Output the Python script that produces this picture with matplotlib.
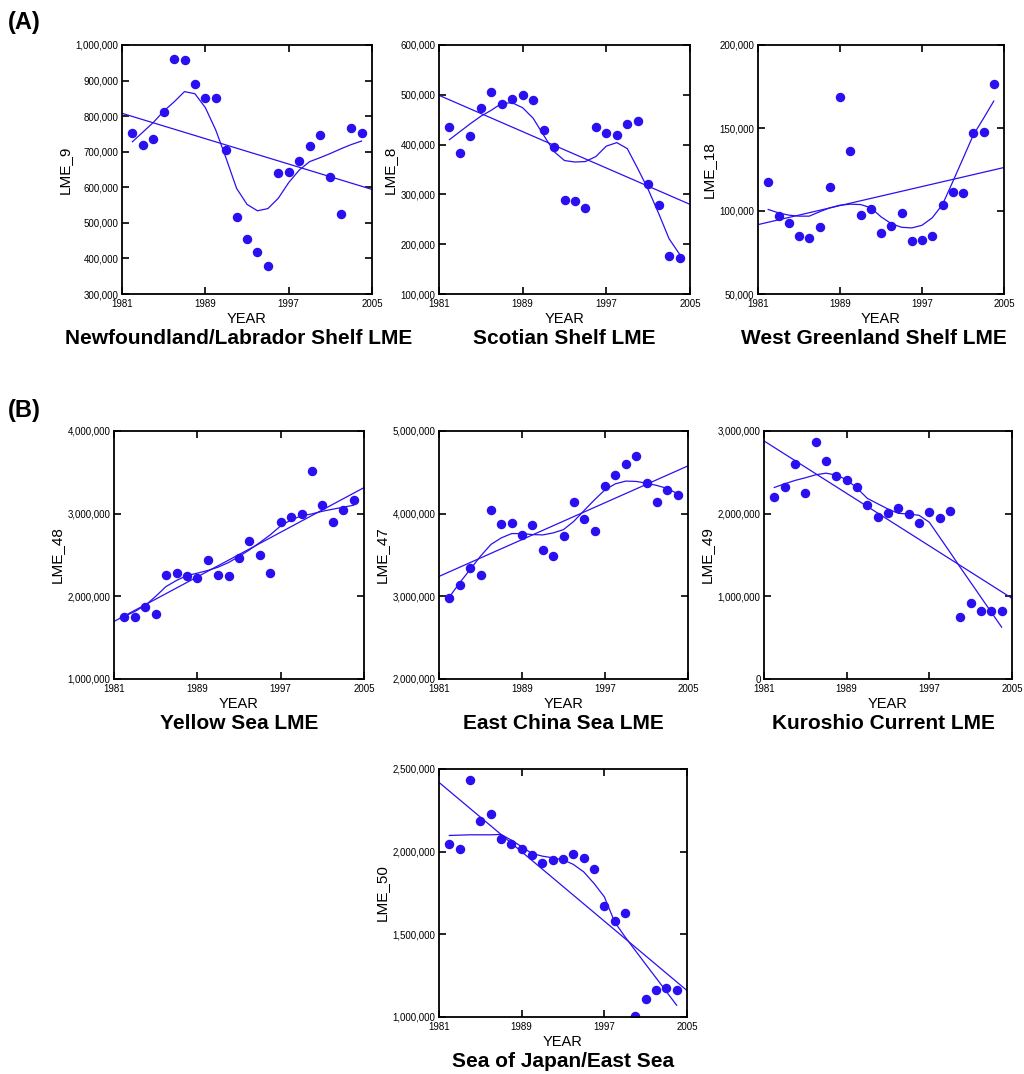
import matplotlib
matplotlib.use("Agg")
import matplotlib.pyplot as plt
from matplotlib.ticker import FuncFormatter
import numpy as np

plt.rcParams['font.family'] = ['Liberation Sans', 'DejaVu Sans']

years = np.arange(1982, 2005)

# catch values, smoothed curve and trend-line ends (1981, 2005)
lme_9 = [752e3, 718e3, 736e3, 813e3, 960e3, 958e3, 891e3, 852e3, 850e3, 706e3, 517e3, 455e3,
         417e3, 379e3, 640e3, 643e3, 673e3, 716e3, 748e3, 628e3, 525e3, 767e3, 754e3]
lme_9_smooth = [728e3, 755e3, 782e3, 814e3, 840e3, 869e3, 863e3, 824e3, 761e3, 681e3, 597e3, 552e3,
                534e3, 540e3, 569e3, 613e3, 648e3, 672e3, 683e3, 695e3, 708e3, 720e3, 730e3]
lme_9_trend = [808e3, 594e3]

lme_8 = [436e3, 384e3, 418e3, 474e3, 506e3, 481e3, 492e3, 500e3, 489e3, 429e3, 395e3, 288e3,
         287e3, 273e3, 435e3, 424e3, 420e3, 441e3, 447e3, 321e3, 279e3, 177e3, 173e3]
lme_8_smooth = [410e3, 426e3, 442e3, 457e3, 469e3, 483e3, 484e3, 474e3, 453e3, 419e3, 386e3, 368e3,
                365e3, 366e3, 376e3, 397e3, 404e3, 392e3, 352e3, 310e3, 262e3, 211e3, 180e3]
lme_8_trend = [499e3, 280e3]

lme_18 = [117.4e3, 97.1e3, 93.0e3, 85.2e3, 84.0e3, 90.4e3, 114.4e3, 168.4e3, 136.1e3, 97.3e3, 101.1e3,
          86.6e3, 90.8e3, 98.7e3, 82.0e3, 82.8e3, 85.2e3, 103.9e3, 111.3e3, 110.9e3, 146.7e3, 147.3e3, 176.5e3]
lme_18_smooth = [100.9e3, 98.9e3, 97.5e3, 96.9e3, 96.9e3, 99.5e3, 101.9e3, 103.5e3, 104.1e3, 103.9e3, 102e3,
                 96.5e3, 92.4e3, 90.2e3, 89.8e3, 91.4e3, 95.9e3, 103.9e3, 117.6e3, 131.6e3, 145.7e3, 155.8e3, 166.2e3]
lme_18_trend = [91.8e3, 126.2e3]

lme_48 = [1.745e6, 1.753e6, 1.870e6, 1.785e6, 2.256e6, 2.284e6, 2.248e6, 2.220e6, 2.437e6, 2.256e6, 2.240e6,
          2.466e6, 2.671e6, 2.502e6, 2.284e6, 2.901e6, 2.957e6, 3.001e6, 3.521e6, 3.106e6, 2.901e6, 3.045e6, 3.166e6]
lme_48_smooth = [1.757e6, 1.817e6, 1.890e6, 2.000e6, 2.119e6, 2.192e6, 2.252e6, 2.280e6, 2.313e6, 2.353e6, 2.409e6,
                 2.482e6, 2.562e6, 2.651e6, 2.744e6, 2.852e6, 2.925e6, 2.973e6, 2.997e6, 3.029e6, 3.054e6, 3.078e6, 3.102e6]
lme_48_trend = [1.696e6, 3.315e6]

lme_47 = [2.984e6, 3.137e6, 3.337e6, 3.253e6, 4.040e6, 3.880e6, 3.884e6, 3.743e6, 3.867e6, 3.566e6, 3.486e6,
          3.735e6, 4.141e6, 3.936e6, 3.787e6, 4.333e6, 4.462e6, 4.598e6, 4.695e6, 4.365e6, 4.141e6, 4.285e6, 4.225e6]
lme_47_smooth = [2.992e6, 3.165e6, 3.325e6, 3.486e6, 3.627e6, 3.707e6, 3.759e6, 3.759e6, 3.747e6, 3.743e6, 3.767e6,
                 3.807e6, 3.908e6, 4.040e6, 4.169e6, 4.289e6, 4.361e6, 4.394e6, 4.390e6, 4.369e6, 4.341e6, 4.305e6, 4.241e6]
lme_47_trend = [3.241e6, 4.578e6]

lme_49 = [2.201e6, 2.317e6, 2.606e6, 2.245e6, 2.863e6, 2.643e6, 2.458e6, 2.406e6, 2.325e6, 2.104e6, 1.956e6,
          2.012e6, 2.068e6, 1.992e6, 1.888e6, 2.016e6, 1.948e6, 2.028e6, 0.747e6, 0.920e6, 0.827e6, 0.819e6, 0.827e6]
lme_49_smooth = [2.317e6, 2.361e6, 2.402e6, 2.434e6, 2.470e6, 2.490e6, 2.466e6, 2.410e6, 2.309e6, 2.185e6, 2.120e6,
                 2.056e6, 2.004e6, 1.996e6, 1.980e6, 1.896e6, 1.715e6, 1.534e6, 1.349e6, 1.169e6, 0.988e6, 0.807e6, 0.627e6]
lme_49_trend = [2.880e6, 0.976e6]

lme_50 = [2.044e6, 2.018e6, 2.433e6, 2.185e6, 2.225e6, 2.074e6, 2.046e6, 2.014e6, 1.977e6, 1.929e6, 1.947e6,
          1.957e6, 1.985e6, 1.963e6, 1.896e6, 1.670e6, 1.582e6, 1.628e6, 1.004e6, 1.107e6, 1.162e6, 1.176e6, 1.162e6]
lme_50_smooth = [2.098e6, 2.100e6, 2.102e6, 2.102e6, 2.102e6, 2.104e6, 2.070e6, 2.030e6, 1.989e6, 1.973e6, 1.963e6,
                 1.951e6, 1.923e6, 1.878e6, 1.808e6, 1.727e6, 1.575e6, 1.485e6, 1.402e6, 1.319e6, 1.237e6, 1.154e6, 1.071e6]
lme_50_trend = [2.419e6, 1.160e6]

W, H = 1024, 1074
fig = plt.figure(figsize=(W / 100, H / 100), dpi=100)
blue = '#2a10f0'


def panel(box, y, ys, yt, ylabel, ylim, yticks, title, title_dx=0):
    x0, y0, x1, y1 = box
    ax = fig.add_axes([x0 / W, 1 - y1 / H, (x1 - x0) / W, (y1 - y0) / H])
    ax.plot(years, y, 'o', color=blue, markersize=5.8)
    ax.plot(years, ys, color=blue, lw=0.9)
    ax.plot([1981, 2005], yt, color=blue, lw=0.9)
    ax.set_xlim(1981, 2005)
    ax.set_ylim(*ylim)
    ax.set_xticks([1981, 1989, 1997, 2005])
    ax.set_yticks(yticks)
    ax.yaxis.set_major_formatter(FuncFormatter(lambda v, p: f'{int(v):,}'))
    ax.tick_params(direction='in', top=True, right=True, length=5, width=1.2, labelsize=7)
    ax.tick_params(axis='x', pad=3.5)
    ax.tick_params(axis='y', pad=2.5)
    for s in ax.spines.values():
        s.set_linewidth(1.3)
    ax.set_xlabel('YEAR', fontsize=10.5, labelpad=2)
    ax.set_ylabel(ylabel, fontsize=11, labelpad=3)
    ax.text(0.5 + title_dx, -0.18, title, transform=ax.transAxes, ha='center', va='center',
            fontsize=15, fontweight='bold')
    return ax


panel((122, 45, 372, 294), lme_9, lme_9_smooth, lme_9_trend, 'LME_9', (300e3, 1e6),
      np.arange(300e3, 1.0001e6, 100e3), 'Newfoundland/Labrador Shelf LME', -0.035)
panel((439, 45, 690, 294), lme_8, lme_8_smooth, lme_8_trend, 'LME_8', (100e3, 600e3),
      np.arange(100e3, 600.1e3, 100e3), 'Scotian Shelf LME')
panel((758, 45, 1004, 294), lme_18, lme_18_smooth, lme_18_trend, 'LME_18', (50e3, 200e3),
      np.arange(50e3, 200.1e3, 50e3), 'West Greenland Shelf LME', -0.03)

panel((114, 431, 364, 679), lme_48, lme_48_smooth, lme_48_trend, 'LME_48', (1e6, 4e6),
      np.arange(1e6, 4.01e6, 1e6), 'Yellow Sea LME')
panel((439, 431, 688, 679), lme_47, lme_47_smooth, lme_47_trend, 'LME_47', (2e6, 5e6),
      np.arange(2e6, 5.01e6, 1e6), 'East China Sea LME')
panel((764, 431, 1012, 679), lme_49, lme_49_smooth, lme_49_trend, 'LME_49', (0, 3e6),
      np.arange(0, 3.01e6, 1e6), 'Kuroshio Current LME', -0.02)
panel((439, 769, 687, 1017), lme_50, lme_50_smooth, lme_50_trend, 'LME_50', (1e6, 2.5e6),
      np.arange(1e6, 2.501e6, 500e3), 'Sea of Japan/East Sea')

fig.text(8 / W, 1 - 22 / H, '(A)', fontsize=17, fontweight='bold', va='center')
fig.text(8 / W, 1 - 410 / H, '(B)', fontsize=17, fontweight='bold', va='center')

fig.savefig('out.png', dpi=100)
